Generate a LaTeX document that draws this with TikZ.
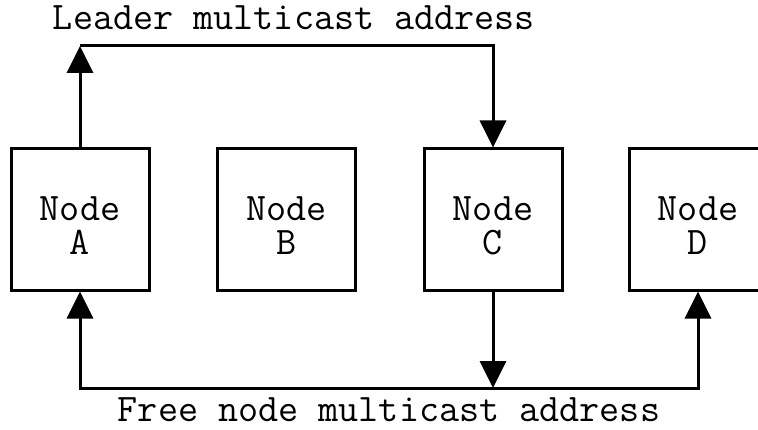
\documentclass[tikz,border=0pt]{standalone}
\usetikzlibrary{arrows.meta}
\begin{document}
\begin{tikzpicture}[x=1pt,y=1pt,
  box/.style={draw,line width=3pt,minimum width=138pt,minimum height=141pt,inner sep=0pt},
  inbox/.style={label={[align=center,yshift=-6pt,inner sep=0pt,
    font=\ttfamily\fontsize{39}{34}\selectfont]center:#1}},
  lbl/.style={font=\ttfamily\fontsize{39}{34}\selectfont,inner sep=0pt,anchor=base},
  arr/.style={line width=3pt,-{Triangle[length=27pt,width=26pt]}}]
\useasboundingbox (0,0) rectangle (758,429);
\clip (0,0) rectangle (758,429);
\node[box,inbox={Node\\A}] (A) at (80,209.5) {};
\node[box,inbox={Node\\B}] (B) at (286.5,209.5) {};
\node[box,inbox={Node\\C}] (C) at (493,209.5) {};
\node[box,inbox={Node\\D}] (D) at (698,209.5) {};
\coordinate (top) at (0,383);
\coordinate (bot) at (0,41);
\coordinate (tl) at (A.north |- top);
\coordinate (bm) at (C.south |- bot);
\draw[arr] (A.north) -- (tl);
\draw[arr] (tl) -| (C.north);
\draw[arr] (C.south) -- (bm);
\draw[arr] (bm) -| (A.south);
\draw[arr] (bm) -| (D.south);
\node[lbl] (ltop) at (294,399) {Leader multicast address};
\node[lbl] (lbot) at (389,8) {Free node multicast address};
\end{tikzpicture}
\end{document}
